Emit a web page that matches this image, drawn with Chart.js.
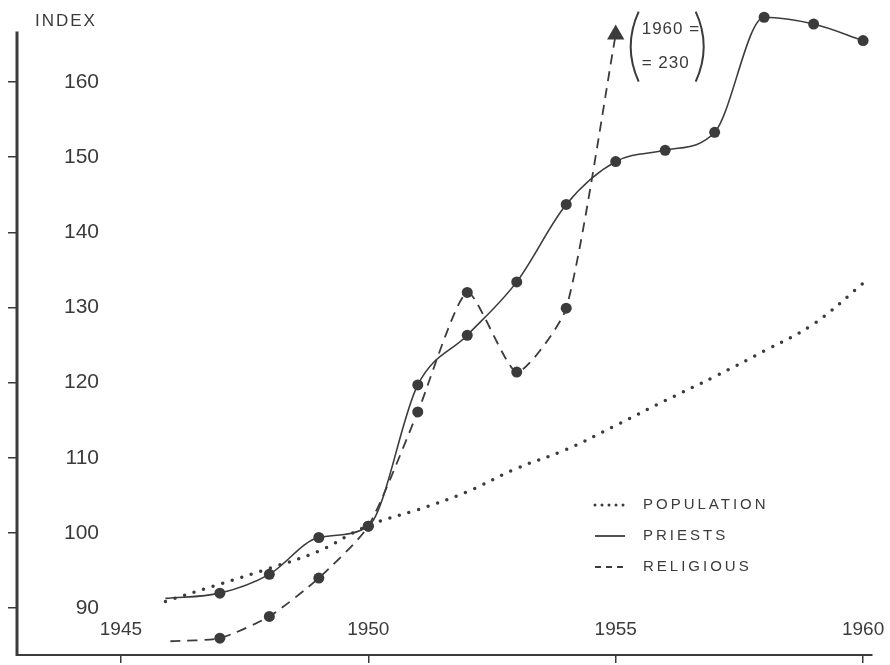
<!DOCTYPE html>
<html>
<head>
<meta charset="utf-8">
<script src="https://cdn.jsdelivr.net/npm/chart.js@4"></script>
<style>
  html, body { margin: 0; padding: 0; background: #fff; }
  #wrap { width: 890px; height: 665px; }
</style>
</head>
<body>
<div id="wrap"><canvas id="chart"></canvas></div>
<script>
// Index values (1950 = 100)
const priestYears = [1945.9, 1947, 1948, 1949, 1950, 1951, 1952, 1953, 1954, 1955, 1956, 1957, 1958, 1959, 1960];
const priestValues = [91.3, 92.0, 94.5, 99.4, 100.9, 119.7, 126.3, 133.4, 143.7, 149.4, 150.9, 153.3, 168.6, 167.7, 165.5];

// last point is the arrow running off the top of the scale
const religiousYears = [1946, 1947, 1948, 1949, 1950, 1951, 1952, 1953, 1954, 1955];
const religiousValues = [85.6, 86.0, 88.9, 94.0, 100.9, 116.1, 132.0, 121.4, 129.9, 166.3];

const populationYears = [1945.9, 1947, 1948, 1949, 1950, 1951, 1952, 1953, 1954, 1955, 1956, 1957, 1958, 1959, 1960];
const populationValues = [90.9, 93.2, 95.3, 97.6, 101.0, 103.1, 105.5, 108.6, 111.1, 114.3, 117.6, 120.8, 124.2, 127.8, 133.2];

const yearTicks = [1945, 1950, 1955, 1960];
const indexTicks = [90, 100, 110, 120, 130, 140, 150, 160];
const axisTop = 166.7; // where the drawn y axis stops
const religiousNote = ["1960 =", "= 230"];

const INK = "#3b3b3b";
const FONT = "'Liberation Sans', sans-serif";

const toPoints = (xs, ys) => xs.map((x, i) => ({ x: x, y: ys[i] }));

// y axis line, axis title, legend and the 1960 note
const extras = {
  id: "extras",
  afterDraw(chart) {
    const { ctx, chartArea, scales } = chart;
    ctx.save();
    ctx.fillStyle = INK;
    ctx.strokeStyle = INK;
    ctx.textBaseline = "middle";

    // y axis line, stopping a little under the top of the plot
    const yTop = scales.y.getPixelForValue(axisTop);
    ctx.lineWidth = 3;
    ctx.beginPath();
    ctx.moveTo(chartArea.left, chartArea.bottom + 1);
    ctx.lineTo(chartArea.left, yTop);
    ctx.stroke();

    // INDEX title at top of y axis
    ctx.letterSpacing = "2px";
    ctx.font = "17px " + FONT;
    ctx.fillText("INDEX", chartArea.left + 18, yTop - 10);

    // legend
    ctx.font = "15px " + FONT;
    ctx.letterSpacing = "3px";
    const lx = chartArea.right - 277;
    chart.data.datasets.forEach((ds, i) => {
      const y = chartArea.bottom - 150 + i * 31;
      ctx.save();
      ctx.lineWidth = ds.legendWidth;
      ctx.lineCap = ds.borderCapStyle || "butt";
      ctx.setLineDash(ds.legendDash);
      ctx.beginPath();
      ctx.moveTo(lx, y);
      ctx.lineTo(lx + 30, y);
      ctx.stroke();
      ctx.restore();
      ctx.fillText(ds.label, lx + 48, y);
    });

    // note next to the religious arrow
    const meta = chart.getDatasetMeta(2);
    const tip = meta.data[meta.data.length - 1];
    const nx = tip.x + 17, ny = tip.y - 23;
    ctx.letterSpacing = "1px";
    ctx.font = "17px " + FONT;
    ctx.fillText(religiousNote[0], nx + 9, ny + 18);
    ctx.fillText(religiousNote[1], nx + 9, ny + 52);
    ctx.lineWidth = 2;
    ctx.beginPath();
    ctx.moveTo(nx + 6, ny);
    ctx.quadraticCurveTo(nx - 10, ny + 35, nx + 6, ny + 70);
    ctx.moveTo(nx + 63, ny);
    ctx.quadraticCurveTo(nx + 79, ny + 35, nx + 63, ny + 70);
    ctx.stroke();
    ctx.restore();
  }
};

new Chart(document.getElementById("chart"), {
  type: "line",
  data: {
    datasets: [
      {
        label: "POPULATION",
        data: toPoints(populationYears, populationValues),
        borderColor: INK,
        borderWidth: 3.5,
        borderDash: [0, 10],
        borderCapStyle: "round",
        legendDash: [0, 7],
        legendWidth: 3,
        pointRadius: 0,
        tension: 0.4
      },
      {
        label: "PRIESTS",
        data: toPoints(priestYears, priestValues),
        borderColor: INK,
        backgroundColor: INK,
        borderWidth: 1.6,
        legendDash: [],
        legendWidth: 1.8,
        pointRadius: priestValues.map((v, i) => i === 0 ? 0 : 5.5),
        pointBorderWidth: 0,
        cubicInterpolationMode: "monotone",
        clip: false
      },
      {
        label: "RELIGIOUS",
        data: toPoints(religiousYears, religiousValues),
        borderColor: INK,
        backgroundColor: INK,
        borderWidth: 1.8,
        borderDash: [10, 7],
        legendDash: [6, 5],
        legendWidth: 1.8,
        pointRadius: religiousValues.map((v, i) => i === 0 ? 0 : (i === religiousValues.length - 1 ? 10 : 5.5)),
        pointStyle: religiousValues.map((v, i) => i === religiousValues.length - 1 ? "triangle" : "circle"),
        pointBorderWidth: 0,
        tension: 0.2,
        clip: false
      }
    ]
  },
  options: {
    responsive: true,
    maintainAspectRatio: false,
    animation: false,
    layout: { padding: { top: 12, right: 18, left: 0, bottom: 0 } },
    plugins: {
      legend: { display: false },
      tooltip: { enabled: false }
    },
    scales: {
      x: {
        type: "linear",
        min: 1942.9,
        max: 1960.18,
        afterBuildTicks: (scale) => { scale.ticks = yearTicks.map(v => ({ value: v })); },
        afterFit: (scale) => {
          scale.height = 8;
          scale.paddingLeft = 0;
          scale.paddingRight = 0;
        },
        grid: { drawOnChartArea: false, tickLength: 8, color: INK, lineWidth: 1.5 },
        border: { color: INK, width: 2 },
        ticks: {
          mirror: true,
          padding: 14,
          color: INK,
          font: { family: FONT, size: 19 },
          maxRotation: 0,
          callback: (v) => String(v)
        }
      },
      y: {
        min: 83.77,
        max: 169.3,
        afterBuildTicks: (scale) => { scale.ticks = indexTicks.map(v => ({ value: v })); },
        afterFit: (scale) => {
          scale.width = 17;
          scale.paddingTop = 0;
          scale.paddingBottom = 0;
        },
        grid: { drawOnChartArea: false, tickLength: 9, color: INK, lineWidth: 1.5 },
        border: { display: false },
        ticks: {
          mirror: true,
          crossAlign: "far",
          padding: 47,
          color: INK,
          font: { family: FONT, size: 21 }
        }
      }
    }
  },
  plugins: [extras]
});
</script>
</body>
</html>
